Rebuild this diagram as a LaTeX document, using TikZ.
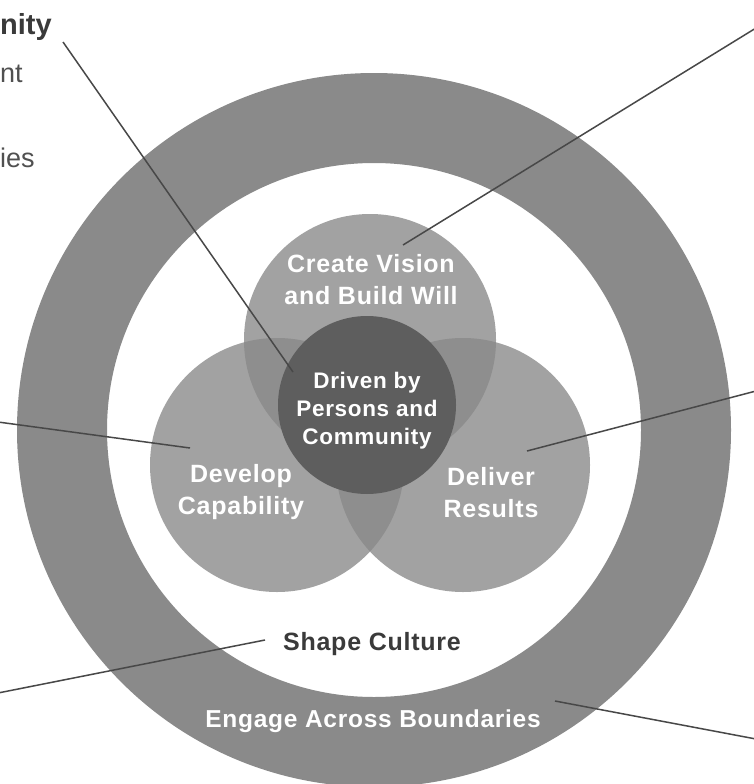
\documentclass[tikz,border=0pt]{standalone}
\usepackage{fontspec}
\setmainfont{Liberation Sans}
\newfontfamily\lsp[LetterSpace=3]{Liberation Sans}
\definecolor{ringgray}{RGB}{138,138,138}
\definecolor{circgray}{RGB}{162,162,162}
\definecolor{lensgray}{RGB}{142,142,142}
\definecolor{coregray}{RGB}{94,94,94}
\definecolor{linegray}{RGB}{72,72,72}
\definecolor{darktext}{RGB}{58,58,58}
\definecolor{sidetext}{RGB}{80,80,80}
\begin{document}
\begin{tikzpicture}[x=1pt,y=-1pt,
  lbl/.style={text=white, align=center, inner sep=0pt, font=\lsp\bfseries\fontsize{25}{32}\selectfont},
  corelbl/.style={text=white, align=center, inner sep=0pt, font=\lsp\bfseries\fontsize{22.5}{28}\selectfont},
  conn/.style={draw=linegray, line width=1.5pt},
  side/.style={inner sep=0pt, anchor=base west, text=sidetext, font=\fontsize{27}{32}\selectfont}]
\useasboundingbox (0,0) rectangle (754,784);
\fill[white] (0,0) rectangle (754,784);
% centres
\coordinate (c) at (374,430);
\coordinate (V) at (370,340);
\coordinate (D) at (277,465);
\coordinate (R) at (463,465);
\coordinate (M) at (367,405);
% outer ring
\fill[ringgray, even odd rule] (c) circle (357pt) (c) circle (267pt);
% three circles
\fill[circgray] (V) circle (126pt);
\fill[circgray] (D) circle (127pt);
\fill[circgray] (R) circle (127pt);
% overlaps
\begin{scope}
  \clip (V) circle (126pt);
  \fill[lensgray] (D) circle (127pt);
  \fill[lensgray] (R) circle (127pt);
\end{scope}
\begin{scope}
  \clip (D) circle (127pt);
  \fill[lensgray] (R) circle (127pt);
\end{scope}
% core
\fill[coregray] (M) circle (89pt);
% connector end points
\coordinate (l1a) at (63,42);   \coordinate (l1b) at (293,372);
\coordinate (l2a) at (756,28);  \coordinate (l2b) at (403,245);
\coordinate (l3a) at (-2,422);  \coordinate (l3b) at (190,448);
\coordinate (l4a) at (756,391); \coordinate (l4b) at (527,451);
\coordinate (l5a) at (-2,693);  \coordinate (l5b) at (265,640);
\coordinate (l6a) at (555,701); \coordinate (l6b) at (756,739);
\draw[conn] (l1a) -- (l1b);
\draw[conn] (l2a) -- (l2b);
\draw[conn] (l3a) -- (l3b);
\draw[conn] (l4a) -- (l4b);
\draw[conn] (l5a) -- (l5b);
\draw[conn] (l6a) -- (l6b);
% labels
\node[lbl] (vision) at (371,280) {Create Vision\\and Build Will};
\node[corelbl] (core) at (367,411) {Driven by\\Persons and\\Community};
\node[lbl] (develop) at (241,492) {Develop\\Capability};
\node[lbl] (deliver) at (491,493) {Deliver\\Results};
\node[lbl, text=darktext, anchor=base] (culture) at (372,650) {Shape Culture};
\node[lbl, anchor=base, font=\lsp\bfseries\fontsize{24.5}{30}\selectfont] (engage) at (373,727) {Engage Across Boundaries};
% side texts (at the left edge)
\node[side, text=darktext, font=\bfseries\fontsize{29}{34}\selectfont] (t1) at (0,35) {nity};
\node[side] (t2) at (0,82) {nt};
\node[side] (t3) at (0,167) {ies};
\end{tikzpicture}
\end{document}
